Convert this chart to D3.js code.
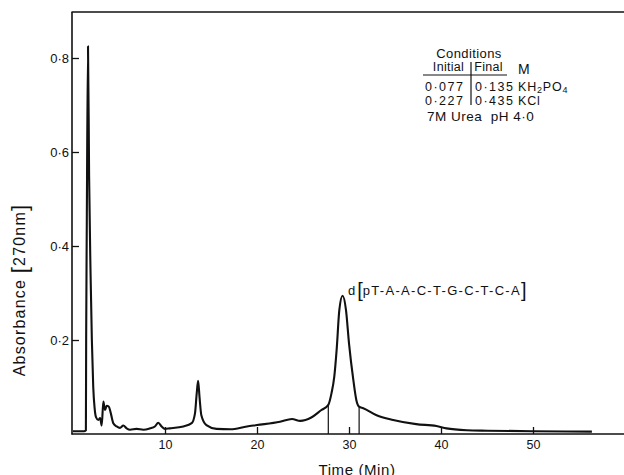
<!DOCTYPE html>
<html>
<head>
<meta charset="utf-8">
<script src="https://cdn.jsdelivr.net/npm/d3@7"></script>
<style>
  body { margin: 0; background: #fff; }
  svg { display: block; }
  text { font-family: "Liberation Sans", Arial, Helvetica, sans-serif; fill: #111; }
</style>
</head>
<body>
<svg id="chart" width="624" height="475"></svg>
<script>
// Elution profile: time (min) and absorbance at 270 nm
const time = [
  0, 1.2, 1.40, 1.43, 1.5, 1.63, 1.75, 1.9, 2.05, 2.2, 2.35, 2.5, 2.75, 2.95, 3.12,
  3.3, 3.48, 3.66, 3.9, 4.1, 4.38, 4.75, 5.1, 5.47, 5.83, 6.2, 6.9, 7.65, 8.37, 8.9,
  9.27, 9.64, 10.0, 10.5, 12.0, 12.9, 13.26, 13.45, 13.6, 13.75, 13.95, 14.5, 15.6, 17.1,
  18.9, 20.0, 22.5, 23.8, 24.7, 25.9, 27.0, 27.75, 28.1, 28.4, 28.66, 28.95, 29.3, 29.67,
  30.0, 30.47, 30.8, 31.1, 31.55, 33.0, 34.8, 37.3, 39.5, 40.6, 42.8, 45.0, 50.0, 56.4
];
const absorbance = [
  0.006, 0.006, 0.008, 0.2, 0.45, 0.825, 0.55, 0.35, 0.2, 0.1, 0.055, 0.036, 0.03, 0.034, 0.018,
  0.069, 0.051, 0.06, 0.058, 0.045, 0.023, 0.016, 0.013, 0.018, 0.012, 0.009, 0.011, 0.009, 0.012, 0.016,
  0.024, 0.016, 0.011, 0.012, 0.016, 0.023, 0.044, 0.087, 0.113, 0.079, 0.04, 0.019, 0.011, 0.010,
  0.016, 0.019, 0.026, 0.032, 0.028, 0.035, 0.051, 0.062, 0.087, 0.122, 0.18, 0.264, 0.294, 0.264,
  0.193, 0.115, 0.072, 0.058, 0.055, 0.04, 0.030, 0.021, 0.017, 0.012, 0.008, 0.007, 0.006, 0.005
];

const xTickValues = [10, 20, 30, 40, 50];
const yTickValues = [0.2, 0.4, 0.6, 0.8];
const yTickLabels = ["0·2", "0·4", "0·6", "0·8"];
const fractionCuts = [27.75, 31.1];

const peakPrefix = "d";
const peakSequence = "pT-A-A-C-T-G-C-T-C-A";

const conditionColumns = ["Initial", "Final"];
const initialConc = ["0·077", "0·227"];
const finalConc = ["0·135", "0·435"];
const salts = ["KH2PO4", "KCl"];
const bufferNote = "7M Urea  pH 4·0";

const svg = d3.select("#chart");
const ink = "#111";

const x = d3.scaleLinear().domain([0, 60]).range([73, 625]);
const y = d3.scaleLinear().domain([0, 0.9]).range([434, 11]);

// Frame: left axis, top border, bottom axis line
svg.append("line").attr("x1", 72).attr("x2", 72).attr("y1", 12).attr("y2", 434.5)
  .attr("stroke", ink).attr("stroke-width", 1.6);
svg.append("line").attr("x1", 71.5).attr("x2", 624).attr("y1", 12).attr("y2", 12)
  .attr("stroke", ink).attr("stroke-width", 1.5);
svg.append("line").attr("x1", 71.5).attr("x2", 624).attr("y1", 434).attr("y2", 434)
  .attr("stroke", ink).attr("stroke-width", 1.5);

// Bottom axis: ticks point up into the plot
const xAxis = d3.axisBottom(x).tickValues(xTickValues).tickSizeInner(-7).tickSizeOuter(0).tickPadding(6);
const gx = svg.append("g").attr("transform", "translate(0,434)").call(xAxis);
gx.select(".domain").remove();
gx.selectAll(".tick line").attr("stroke", ink).attr("stroke-width", 1.3);
gx.selectAll(".tick text").attr("font-size", 12.5).attr("fill", ink)
  .style("font-family", "'Liberation Sans', Arial, sans-serif");

// Left axis: short ticks pointing into the plot
const yAxis = d3.axisLeft(y).tickValues(yTickValues)
  .tickFormat((d, i) => yTickLabels[i]).tickSizeInner(-7).tickSizeOuter(0).tickPadding(3);
const gy = svg.append("g").attr("transform", "translate(72,0)").call(yAxis);
gy.select(".domain").remove();
gy.selectAll(".tick line").attr("stroke", ink).attr("stroke-width", 1.3);
gy.selectAll(".tick text").attr("font-size", 13).attr("fill", ink)
  .style("font-family", "'Liberation Sans', Arial, sans-serif");

// Absorbance trace
const points = time.map((t, i) => [t, absorbance[i]]);
const line = d3.line().x(d => x(d[0])).y(d => y(d[1])).curve(d3.curveMonotoneX);
svg.append("path").datum(points).attr("d", line)
  .attr("fill", "none").attr("stroke", ink).attr("stroke-width", 2.1)
  .attr("stroke-linejoin", "round");

// Fraction boundaries drawn from the axis up to the trace
const bis = d3.bisector(d => d[0]).left;
function valueAt(t) {
  const i = bis(points, t);
  if (i <= 0) return points[0][1];
  if (i >= points.length) return points[points.length - 1][1];
  const a = points[i - 1], b = points[i];
  return a[1] + (b[1] - a[1]) * (t - a[0]) / (b[0] - a[0]);
}
svg.selectAll("line.cut").data(fractionCuts).join("line").attr("class", "cut")
  .attr("x1", d => x(d)).attr("x2", d => x(d))
  .attr("y1", y(0)).attr("y2", d => y(valueAt(d)))
  .attr("stroke", ink).attr("stroke-width", 1.2);

// Peak label
const peakText = svg.append("text").attr("x", 348).attr("y", 295).attr("font-size", 13);
peakText.append("tspan").text(peakPrefix);
peakText.append("tspan").attr("dx", 2).attr("font-size", 20).attr("dy", 2).text("[");
peakText.append("tspan").attr("font-size", 13).attr("dy", -2).attr("letter-spacing", 1.3).text(peakSequence);
peakText.append("tspan").attr("font-size", 20).attr("dy", 2).text("]");

// Conditions table
const tbl = svg.append("g");
tbl.append("text").attr("x", 469).attr("y", 58).attr("text-anchor", "middle")
  .attr("font-size", 13).attr("letter-spacing", 0.4).text("Conditions");
tbl.selectAll("text.col").data(conditionColumns).join("text").attr("class", "col")
  .attr("x", (d, i) => [448.5, 488.5][i]).attr("y", 70.5).attr("text-anchor", "middle")
  .attr("font-size", 12.5).attr("letter-spacing", 0.3).text(d => d);
tbl.append("text").attr("x", 518).attr("y", 74).attr("font-size", 14).text("M");
tbl.append("line").attr("x1", 423).attr("x2", 507).attr("y1", 75).attr("y2", 75)
  .attr("stroke", ink).attr("stroke-width", 1.2);
tbl.append("line").attr("x1", 471).attr("x2", 471).attr("y1", 62).attr("y2", 105)
  .attr("stroke", ink).attr("stroke-width", 1.2);

const rowY = [91, 104.5];
const rowFont = 12.5;
tbl.selectAll("text.ini").data(initialConc).join("text").attr("class", "ini")
  .attr("x", 425).attr("y", (d, i) => rowY[i]).attr("font-size", rowFont).attr("letter-spacing", 1.5).text(d => d);
tbl.selectAll("text.fin").data(finalConc).join("text").attr("class", "fin")
  .attr("x", 475).attr("y", (d, i) => rowY[i]).attr("font-size", rowFont).attr("letter-spacing", 1.5).text(d => d);
tbl.selectAll("text.salt").data(salts).join("text").attr("class", "salt")
  .attr("x", 518).attr("y", (d, i) => rowY[i]).attr("font-size", rowFont).attr("letter-spacing", 0.8)
  .each(function (d) {
    const el = d3.select(this);
    let shift = 0;
    d.split(/(\d)/).filter(s => s.length).forEach(part => {
      const isSub = /\d/.test(part);
      const next = isSub ? 2 : 0;
      el.append("tspan").attr("dy", next - shift).attr("font-size", isSub ? 9 : rowFont).text(part);
      shift = next;
    });
  });
tbl.append("text").attr("x", 427).attr("y", 121).attr("font-size", 13.5)
  .attr("letter-spacing", 0.5).style("white-space", "pre").text(bufferNote);

// Axis titles
svg.append("text").attr("x", 357).attr("y", 475).attr("text-anchor", "middle")
  .attr("font-size", 15).attr("letter-spacing", 0.6).text("Time (Min)");

const yTitle = svg.append("text").attr("transform", "translate(25,290) rotate(-90)")
  .attr("text-anchor", "middle").attr("font-size", 16).attr("letter-spacing", 1.2);
yTitle.append("tspan").text("Absorbance ");
yTitle.append("tspan").attr("font-size", 22).attr("dy", 1.5).text("[");
yTitle.append("tspan").attr("font-size", 16).attr("dy", -1.5).text("270nm");
yTitle.append("tspan").attr("font-size", 22).attr("dy", 1.5).text("]");
</script>
</body>
</html>
